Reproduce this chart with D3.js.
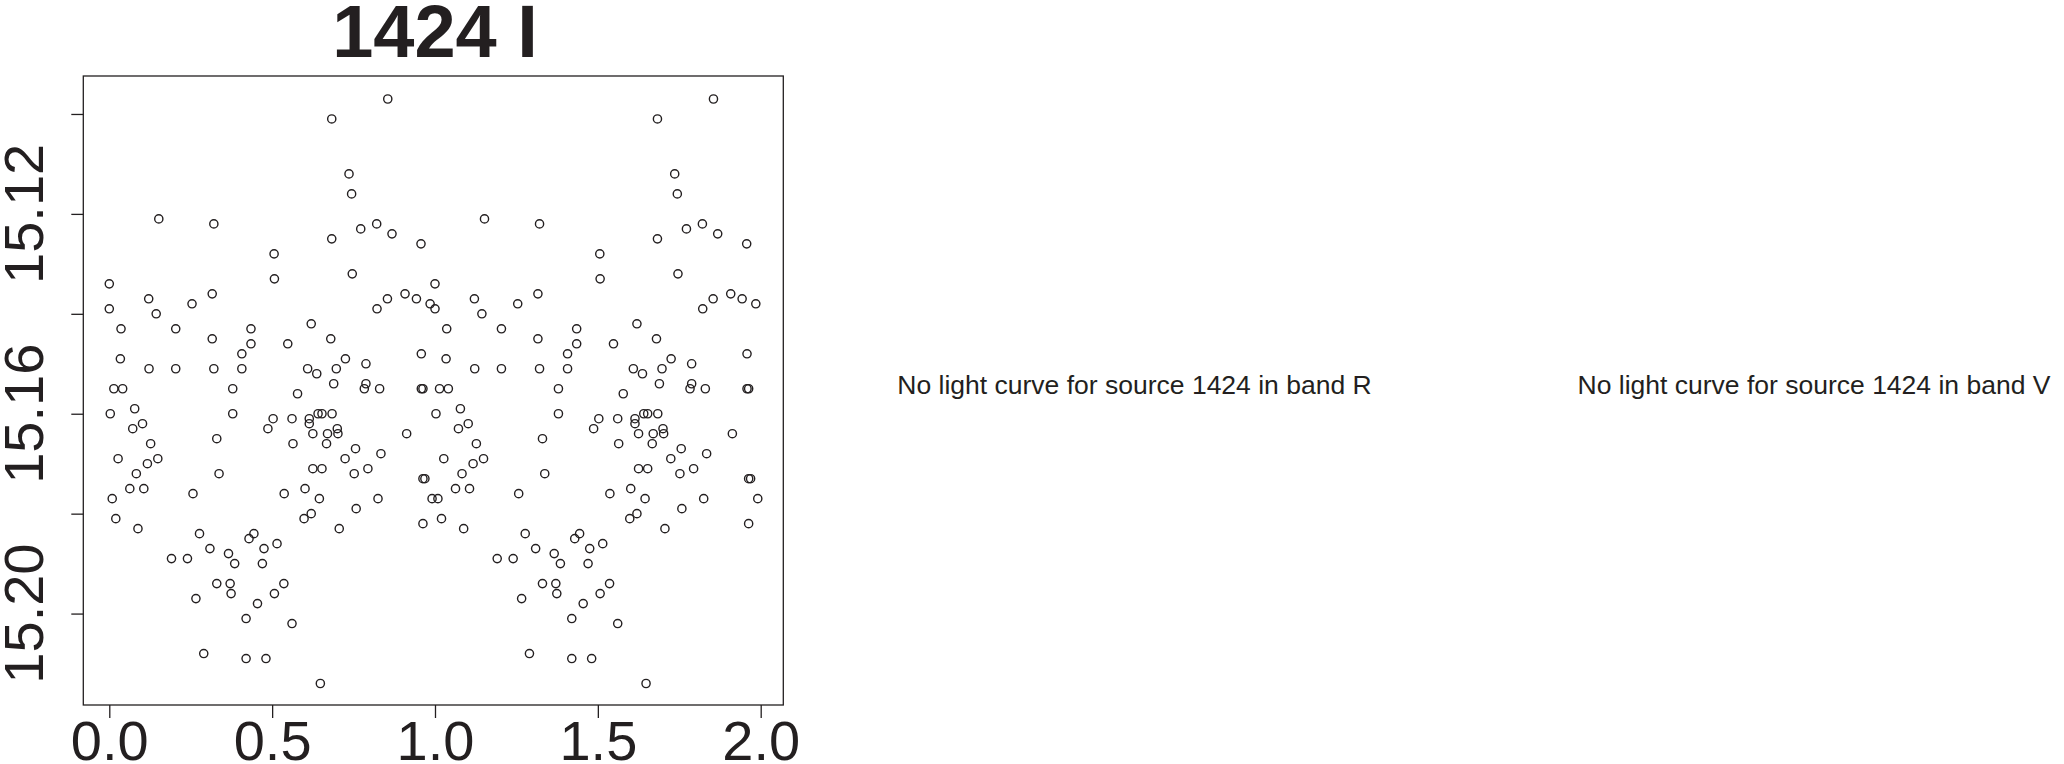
<!DOCTYPE html>
<html>
<head>
<meta charset="utf-8">
<script src="https://cdn.jsdelivr.net/npm/d3@7"></script>
<style>
  html, body { margin: 0; padding: 0; background: #fff; }
  svg { display: block; }
  text { font-family: "Liberation Sans", Arial, Helvetica, sans-serif; fill: #231f20; }
</style>
</head>
<body>
<svg id="chart" width="2064" height="764"></svg>
<script>
// ---- Data (phase-folded light curve, source 1424, band I) ----
const title = "1424 I";
const phases = [0.000,0.000,0.003,0.009,0.020,0.027,0.036,0.034,0.014,0.041,0.063,0.072,0.078,0.083,0.088,0.102,0.106,0.117,0.122,0.121,0.127,0.144,0.149,0.152,0.191,0.204,0.204,0.240,0.254,0.257,0.266,0.277,0.290,0.309,0.316,0.316,0.321,0.321,0.330,0.330,0.337,0.366,0.371,0.374,0.379,0.379,0.385,0.407,0.407,0.420,0.420,0.429,0.435,0.435,0.444,0.455,0.470,0.475,0.481,0.487,0.503,0.507,0.506,0.507,0.515,0.536,0.537,0.548,0.561,0.564,0.561,0.578,0.598,0.601,0.609,0.614,0.614,0.620,0.620,0.625,0.625,0.637,0.641,0.645,0.648,0.653,0.653,0.667,0.670,0.680,0.683,0.683,0.684,0.689,0.697,0.700,0.702,0.706,0.724,0.725,0.736,0.744,0.746,0.752,0.756,0.758,0.772,0.783,0.788,0.788,0.794,0.821,0.822,0.825,0.830,0.834,0.854,0.855,0.868,0.908,0.913,0.943,0.957,0.958,0.958,0.963,0.963,0.963,0.969,0.985,0.991];
const mags = [15.134,15.139,15.160,15.177,15.181,15.169,15.143,15.149,15.155,15.155,15.175,15.163,15.159,15.172,15.183,15.162,15.175,15.170,15.151,15.137,15.166,15.140,15.169,15.121,15.189,15.143,15.151,15.189,15.138,15.176,15.197,15.184,15.208,15.187,15.136,15.145,15.122,15.151,15.165,15.194,15.172,15.188,15.194,15.196,15.155,15.160,15.190,15.148,15.151,15.201,15.209,15.185,15.146,15.143,15.184,15.198,15.190,15.187,15.209,15.163,15.161,15.196,15.128,15.133,15.186,15.194,15.176,15.146,15.161,15.166,15.202,15.156,15.181,15.175,15.151,15.161,15.162,15.142,15.180,15.164,15.171,15.152,15.160,15.177,15.214,15.160,15.171,15.166,15.164,15.145,15.101,15.125,15.160,15.154,15.151,15.163,15.164,15.183,15.169,15.149,15.112,15.116,15.132,15.172,15.167,15.179,15.123,15.155,15.154,15.150,15.171,15.122,15.139,15.177,15.155,15.168,15.137,15.097,15.124,15.136,15.164,15.137,15.126,15.148,15.155,15.155,15.173,15.182,15.173,15.138,15.177];
const cycles = [0, 1];                       // phase plotted twice (0-1 and 1-2)
const xTicks = [0, 0.5, 1, 1.5, 2];
const yTicks = [15.10, 15.12, 15.14, 15.16, 15.18, 15.20];
const yTickLabels = [15.12, 15.16, 15.20];   // labels R could fit
const messages = [
  "No light curve for source 1424 in band R",
  "No light curve for source 1424 in band V"
];

// ---- Layout ----
const svg = d3.select("#chart");
const box = { left: 83.3, right: 783.3, top: 76, bottom: 705 };
const ink = "#231f20";

const x = d3.scaleLinear().domain([-0.0798, 2.0694]).range([box.left, box.right]);
const y = d3.scaleLinear().domain([15.0924, 15.2183]).range([box.top, box.bottom]);

// Title
svg.append("text")
  .attr("x", 435).attr("y", 56.7)
  .attr("text-anchor", "middle")
  .style("font-size", "74px").style("font-weight", "bold")
  .text(title);

// Points
const pts = [];
cycles.forEach(c => phases.forEach((p, i) => pts.push({ p: p + c, m: mags[i] })));
svg.append("g").selectAll("circle").data(pts).join("circle")
  .attr("cx", d => x(d.p)).attr("cy", d => y(d.m))
  .attr("r", 4.1)
  .attr("fill", "none").attr("stroke", ink).attr("stroke-width", 1.4);

// Box
svg.append("rect")
  .attr("x", box.left).attr("y", box.top)
  .attr("width", box.right - box.left).attr("height", box.bottom - box.top)
  .attr("fill", "none").attr("stroke", ink).attr("stroke-width", 1.3);

// X axis
const gx = svg.append("g").attr("transform", `translate(0,${box.bottom})`)
  .call(d3.axisBottom(x).tickValues(xTicks).tickSize(13).tickFormat(d3.format(".1f")));
gx.select(".domain").remove();
gx.selectAll(".tick line").attr("stroke", ink).attr("stroke-width", 1.3);
gx.selectAll(".tick text").attr("y", 55).attr("dy", null)
  .style("font-size", "56px").attr("fill", ink);

// Y axis
const gy = svg.append("g").attr("transform", `translate(${box.left},0)`)
  .call(d3.axisLeft(y).tickValues(yTicks).tickSize(12).tickFormat(""));
gy.select(".domain").remove();
gy.selectAll(".tick line").attr("stroke", ink).attr("stroke-width", 1.3);
gy.selectAll(".tick text").remove();
gy.selectAll("text.ylab").data(yTickLabels).join("text")
  .attr("class", "ylab")
  .attr("transform", d => `translate(-40,${y(d)}) rotate(-90)`)
  .attr("text-anchor", "middle")
  .style("font-size", "56px")
  .text(d => d3.format(".2f")(d));

// Empty-panel messages
const msgX = [1134.5, 1814];
svg.selectAll("text.msg").data(messages).join("text")
  .attr("class", "msg")
  .attr("x", (d, i) => msgX[i]).attr("y", 394.3)
  .attr("text-anchor", "middle")
  .style("font-size", "26.5px")
  .text(d => d);
</script>
</body>
</html>
